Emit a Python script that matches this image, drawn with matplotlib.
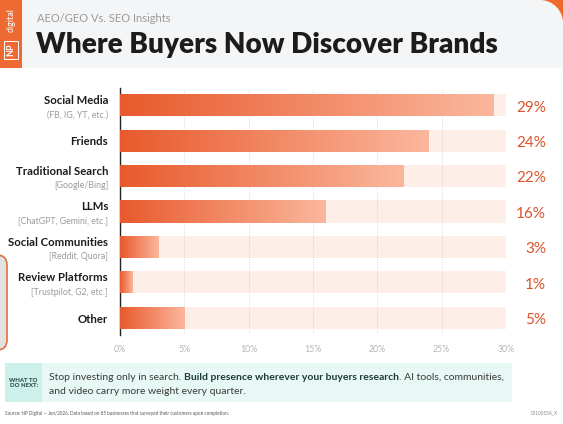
import matplotlib.pyplot as plt
import numpy as np
from matplotlib.colors import LinearSegmentedColormap
from matplotlib.patches import Rectangle, Circle, FancyBboxPatch

plt.rcParams['font.family'] = ['Lato', 'DejaVu Sans']

# data
categories = ['Social Media', 'Friends', 'Traditional Search', 'LLMs',
              'Social Communities', 'Review Platforms', 'Other']
sublabels = ['(FB, IG, YT, etc.)', '', '[Google/Bing]', '[ChatGPT, Gemini, etc.]',
             '[Reddit, Quora]', '[Trustpilot, G2, etc.]', '']
values = [29, 24, 22, 16, 3, 1, 5]
ticks = [0, 5, 10, 15, 20, 25, 30]

W, H = 563, 424
fig = plt.figure(figsize=(W / 100, H / 100), dpi=100)
fig.patch.set_facecolor('white')

# overlay in pixel coordinates for decoration
bg = fig.add_axes([0, 0, 1, 1], zorder=0)
bg.set_xlim(0, W)
bg.set_ylim(H, 0)
bg.axis('off')

# header band
bg.add_patch(Rectangle((0, 0), W, 68, color='#f4f5f7', lw=0))
bg.add_patch(Rectangle((540, 0), 23, 23, color='#ee6a2c', lw=0))
bg.add_patch(Circle((540, 23), 23, color='#f4f5f7', lw=0))
bg.add_patch(Rectangle((W - 1, 23), 1, 45, color='#f4f5f7', lw=0))
bg.add_patch(Rectangle((0, 0), 22, 68, color='#ef6a32', lw=0))
bg.text(11, 20, 'digital', rotation=90, color='white', fontsize=6.5,
        ha='center', va='center')
bg.text(11, 50, 'NP', rotation=90, color='white', fontsize=6.5, fontweight='bold',
        ha='center', va='center',
        bbox=dict(boxstyle='square,pad=0.25', fc='none', ec='white', lw=0.7))
bg.text(37, 19, 'AEO/GEO Vs. SEO Insights', color='#9a9a9a', fontsize=8,
        ha='left', va='center')
bg.text(36, 45, 'Where Buyers Now Discover Brands', color='#1c1c1c',
        fontsize=20.1, fontweight='heavy', ha='left', va='center')

# left decoration
bg.add_patch(FancyBboxPatch((-30, 255), 37, 95, boxstyle='round,pad=0,rounding_size=10',
                            fc='#e2e2e2', ec='#e0703e', lw=1.2))

# callout box
bg.add_patch(Rectangle((5, 363), 507, 39, color='#e7f8f5', lw=0))
bg.add_patch(Rectangle((5, 363), 37, 39, color='#cdf0ea', lw=0))
bg.text(23.5, 383, 'WHAT TO\nDO NEXT:', fontsize=4.3, fontweight='bold',
        color='#1f3b36', ha='center', va='center', linespacing=1.1)
fs = 7.5
t1 = bg.text(49, 377, 'Stop investing only in search. ', fontsize=fs,
             color='#3a3a3a', ha='left', va='center')
t2 = bg.annotate('Build presence wherever your buyers research', xy=(1, 0),
                 xycoords=t1, va='bottom', ha='left', fontsize=fs,
                 fontweight='bold', color='#1f3b36')
bg.annotate('. AI tools, communities,', xy=(1, 0), xycoords=t2, va='bottom',
            ha='left', fontsize=fs, color='#3a3a3a')
bg.text(49, 392, 'and video carry more weight every quarter.', fontsize=fs,
        color='#3a3a3a', ha='left', va='center')

# footer
bg.text(5, 413, 'Source: NP Digital \u2014 Jun/2026. Data based on 85 businesses that '
        'surveyed their customers upon completion.', fontsize=3.3, color='#555555',
        ha='left', va='center')
bg.text(558, 413, '0510053A_X', fontsize=3.3, color='#888888', ha='right', va='center')

# main chart
x0, x1 = 120, 506
ytop, ybot = 88, 335
ax = fig.add_axes([x0 / W, 1 - ybot / H, (x1 - x0) / W, (ybot - ytop) / H], zorder=1)
ax.patch.set_alpha(0)

cmap = LinearSegmentedColormap.from_list('bar', ['#e85a2c', '#fbb79d'])
grad = np.linspace(0, 1, 256).reshape(1, -1)
bh = 0.62
ypos = np.arange(len(categories))

ax.barh(ypos, [30] * len(values), height=bh, color='#fdeee8', zorder=1)
for x in ticks[1:]:
    ax.axvline(x, color='#c8c8c8', lw=0.6, ls=(0, (1, 2)), zorder=2)
bars = ax.barh(ypos, values, height=bh, color='none', zorder=3)
for rect, v, y in zip(bars, values, ypos):
    im = ax.imshow(grad, extent=[0, v, y + bh / 2, y - bh / 2], aspect='auto',
                   cmap=cmap, zorder=3, interpolation='bicubic')
    im.set_clip_path(rect)

ax.set_xlim(0, 30)
ax.set_ylim(len(categories) - 0.52, -0.48)
ax.set_aspect('auto')
for s in ['top', 'right', 'bottom']:
    ax.spines[s].set_visible(False)
ax.spines['left'].set_color('#222222')
ax.spines['left'].set_linewidth(1.0)
ax.set_yticks([])
ax.set_xticks(ticks)
ax.set_xticklabels([f'{t}%' for t in ticks], color='#b5b5b5', fontsize=6.3)
ax.tick_params(axis='x', length=0, pad=7)

trans = ax.get_yaxis_transform()
for y, cat, sub, v in zip(ypos, categories, sublabels, values):
    if sub:
        ax.text(-0.031, y - 0.13, cat, transform=trans, ha='right', va='center',
                fontsize=8.2, fontweight='bold', color='#1c1c1c')
        ax.text(-0.031, y + 0.27, sub, transform=trans, ha='right', va='center',
                fontsize=6.3, color='#9a9a9a')
    else:
        ax.text(-0.031, y + 0.03, cat, transform=trans, ha='right', va='center',
                fontsize=8.2, fontweight='bold', color='#1c1c1c')
    ax.text(1.104, y + 0.07, f'{v}%', transform=trans, ha='right', va='center',
            fontsize=11, color='#d9532b')

fig.savefig('out.png', dpi=100)
